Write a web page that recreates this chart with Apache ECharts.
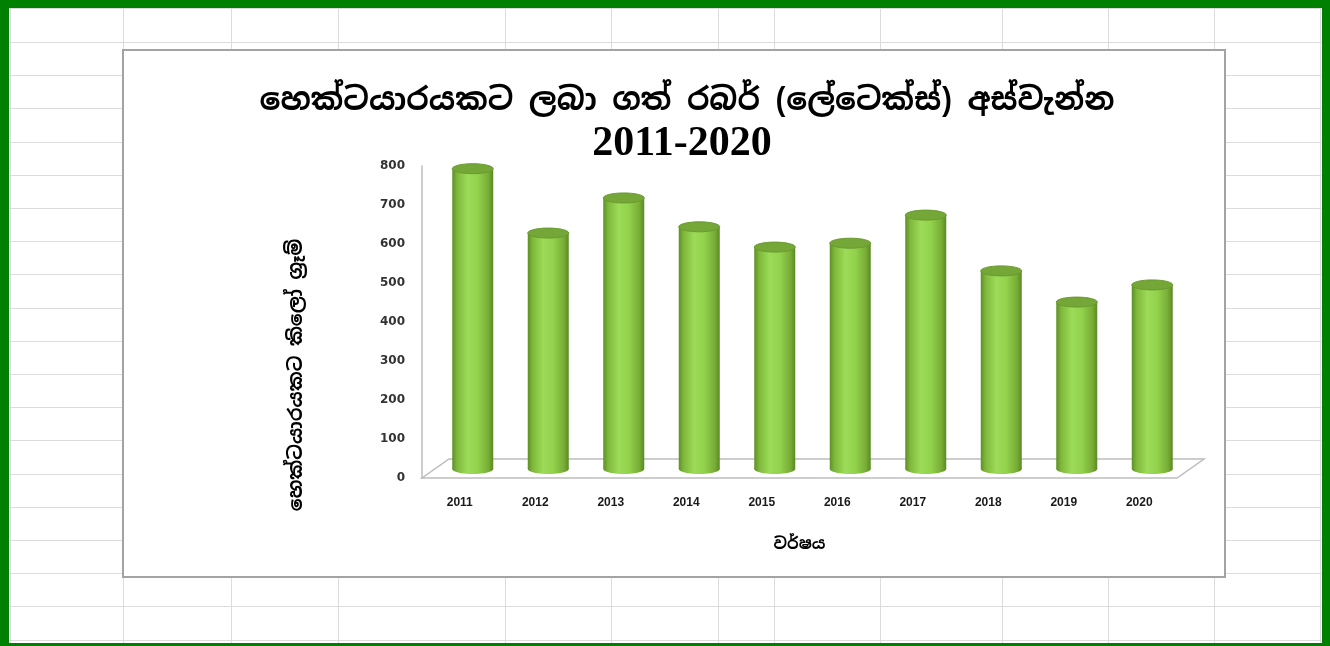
<!DOCTYPE html>
<html>
<head>
<meta charset="utf-8">
<script src="https://cdn.jsdelivr.net/npm/echarts@6/dist/echarts.min.js"></script>
<style>
  html, body { margin: 0; padding: 0; background: #fff; }
  #sheet { position: relative; width: 1330px; height: 646px; overflow: hidden; background: #fff; }
  .gl { position: absolute; background: #dcdcdc; }
  #frame { position: absolute; left: 0; top: 0; width: 1330px; height: 646px; box-sizing: border-box;
    border-style: solid; border-color: #008000; border-width: 8px 8px 3px 9px; pointer-events: none; }
  #box { position: absolute; left: 122px; top: 49px; width: 1104px; height: 529px; box-sizing: border-box;
    border: 2px solid #a3a3a3; background: #fff; }
  #chart { width: 1100px; height: 525px; }
</style>
</head>
<body>
<div id="sheet">
  <div id="box"><div id="chart"></div></div>
  <div id="frame"></div>
</div>
<script>
// වර්ෂ සහ අස්වැන්න (කි.ග්‍රෑ / හෙක්ටයාරය)
const years = ["2011", "2012", "2013", "2014", "2015", "2016", "2017", "2018", "2019", "2020"];
const yieldKg = [770, 605, 695, 621, 569, 579, 651, 508, 428, 472];
const yTicks = [0, 100, 200, 300, 400, 500, 600, 700, 800];

const titleLine1 = "හෙක්ටයාරයකට ලබා ගත් රබර් (ලේටෙක්ස්) අස්වැන්න";
const titleLine2 = "2011-2020";
const xName = "වර්ෂය";
const yName = "හෙක්ටයාරයකට කිලෝ ග්‍රෑම්";

// excel පත්‍රයේ ජාලක රේඛා (පසුබිම පමණයි)
const colLines = [10, 123, 231, 338, 505, 611, 718, 774, 880, 1002, 1108, 1214, 1320];
const sheet = document.getElementById("sheet");
colLines.forEach((x) => {
  const d = document.createElement("div");
  d.className = "gl";
  d.style.cssText = `left:${x}px;top:0;width:1px;height:646px`;
  sheet.insertBefore(d, sheet.firstChild);
});
for (let k = -1; k < 19; k++) {
  const y = k < 0 ? 8 : Math.round(42 + 33.2 * k);
  const d = document.createElement("div");
  d.className = "gl";
  d.style.cssText = `left:0;top:${y}px;width:1330px;height:1px`;
  sheet.insertBefore(d, sheet.firstChild);
}

const SINHALA = "'Noto Sans Sinhala', 'Iskoola Pota', 'Noto Serif Sinhala', serif";
const DX = 13, DY = -9; // 3D ගැඹුර සඳහා විස්ථාපනය

function renderCylinder(params, api) {
  const top = api.coord([api.value(0), api.value(1)]);
  const base = api.coord([api.value(0), 0]);
  const w = 41, rx = w / 2, ry = 5;
  const cx = top[0] + DX;
  const yTop = top[1] + DY, yBase = base[1] + DY;
  const grad = new echarts.graphic.LinearGradient(0, 0, 1, 0, [
    { offset: 0, color: "#5f8f25" },
    { offset: 0.12, color: "#7fb83c" },
    { offset: 0.38, color: "#9ddb58" },
    { offset: 0.62, color: "#92d24c" },
    { offset: 0.88, color: "#78ad36" },
    { offset: 1, color: "#5a8a22" }
  ]);
  return {
    type: "group",
    children: [
      { type: "ellipse", shape: { cx, cy: yBase, rx, ry }, style: { fill: grad } },
      { type: "rect", shape: { x: cx - rx, y: yTop, width: w, height: yBase - yTop }, style: { fill: grad } },
      { type: "ellipse", shape: { cx, cy: yTop, rx, ry }, style: { fill: "#74a638", stroke: "#6a9a30", lineWidth: 1 } }
    ]
  };
}

function renderFloor(params, api) {
  const cs = params.coordSys;
  const y0 = cs.y + cs.height;
  return {
    type: "polygon",
    shape: { points: [[cs.x, y0], [cs.x + cs.width, y0], [cs.x + cs.width + 27, y0 - 19], [cs.x + 27, y0 - 19]] },
    style: { fill: "#fff", stroke: "#bdbdbd", lineWidth: 1.5 }
  };
}

const chart = echarts.init(document.getElementById("chart"));
chart.setOption({
  backgroundColor: "#fff",
  animation: false,
  title: [
    { text: titleLine1, left: 558, textAlign: "center", top: 30,
      textStyle: { fontFamily: SINHALA, fontSize: 31, fontWeight: "bold", color: "#000" } },
    { text: titleLine2, left: 553, textAlign: "center", top: 67,
      textStyle: { fontFamily: "'Liberation Serif', serif", fontSize: 42, fontWeight: "bold", color: "#000" } }
  ],
  graphic: [{
    type: "text", x: 173, y: 324, rotation: Math.PI / 2,
    style: { text: yName, fill: "#000", font: "bold 19px " + SINHALA, align: "center", verticalAlign: "middle" }
  }],
  grid: { left: 298, top: 115, width: 755, height: 312 },
  xAxis: {
    type: "category",
    data: years,
    name: xName,
    nameLocation: "middle",
    nameGap: 59,
    nameTextStyle: { fontFamily: SINHALA, fontSize: 16, fontWeight: "bold", color: "#000" },
    axisLine: { show: false },
    axisTick: { show: false },
    axisLabel: { margin: 19, fontFamily: "'Liberation Sans', sans-serif", fontSize: 12, fontWeight: "bold", color: "#1a1a1a" }
  },
  yAxis: {
    type: "value",
    min: 0, max: 800, interval: 100,
    axisLine: { show: true, lineStyle: { color: "#bdbdbd", width: 1.5 } },
    axisTick: { show: false },
    splitLine: { show: false },
    axisLabel: { margin: 17, fontFamily: "'DejaVu Sans', sans-serif", fontSize: 12, fontWeight: "bold", color: "#333" ,
      formatter: (v) => (yTicks.includes(v) ? String(v) : "") }
  },
  series: [
    { type: "custom", renderItem: renderFloor, data: [[0, 0]], z: 1, silent: true },
    { type: "custom", renderItem: renderCylinder, data: years.map((y, i) => [i, yieldKg[i]]), z: 2,
      encode: { x: 0, y: 1 } }
  ]
});
</script>
</body>
</html>
